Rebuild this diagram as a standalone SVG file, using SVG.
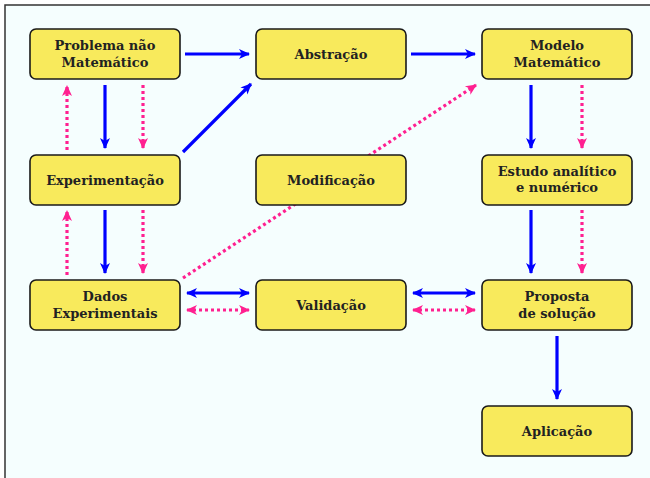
<svg xmlns="http://www.w3.org/2000/svg" width="650" height="478" viewBox="0 0 650 478">
<style>
.box{fill:#f8ea5c;stroke:#1a1a1a;stroke-width:1.6}
.t{font-family:"DejaVu Serif","Liberation Serif",serif;font-weight:bold;font-size:13px;fill:#222;text-anchor:middle}
.b{stroke:#0000ff;stroke-width:3.2;fill:none}
.p{stroke:#ff2090;stroke-width:3.2;fill:none;stroke-dasharray:3 3}
</style>
<defs>
<marker id="ab" markerUnits="userSpaceOnUse" markerWidth="12" markerHeight="12" viewBox="-10 -6 12 12" refX="0" refY="0" orient="auto-start-reverse">
<path d="M-10,-5 L1,0 L-10,5 L-7,0 Z" fill="#0000ff"/>
</marker>
<marker id="ap" markerUnits="userSpaceOnUse" markerWidth="12" markerHeight="12" viewBox="-10 -6 12 12" refX="0" refY="0" orient="auto-start-reverse">
<path d="M-10,-5 L1,0 L-10,5 L-7,0 Z" fill="#ff2090"/>
</marker>
</defs>
<rect x="0" y="0" width="650" height="478" fill="#ffffff"/>
<rect x="5" y="5" width="660" height="490" fill="#f5fefe" stroke="#333" stroke-width="1.5"/>
<g id="connectors">
<line class="p" x1="183" y1="278" x2="476" y2="85" marker-end="url(#ap)"/>
<line class="b" x1="185" y1="54" x2="249" y2="54" marker-end="url(#ab)"/>
<line class="b" x1="411" y1="54" x2="475" y2="54" marker-end="url(#ab)"/>
<line class="b" x1="105" y1="85" x2="105" y2="148" marker-end="url(#ab)"/>
<line class="p" x1="67" y1="150" x2="67" y2="86" marker-end="url(#ap)"/>
<line class="p" x1="143" y1="85" x2="143" y2="148" marker-end="url(#ap)"/>
<line class="b" x1="183" y1="152" x2="251" y2="84" marker-end="url(#ab)"/>
<line class="b" x1="105" y1="210" x2="105" y2="273" marker-end="url(#ab)"/>
<line class="p" x1="67" y1="275" x2="67" y2="211" marker-end="url(#ap)"/>
<line class="p" x1="143" y1="210" x2="143" y2="273" marker-end="url(#ap)"/>
<line class="b" x1="187" y1="293" x2="249" y2="293" marker-start="url(#ab)" marker-end="url(#ab)"/>
<line class="p" x1="187" y1="310" x2="249" y2="310" marker-start="url(#ap)" marker-end="url(#ap)"/>
<line class="b" x1="413" y1="293" x2="475" y2="293" marker-start="url(#ab)" marker-end="url(#ab)"/>
<line class="p" x1="413" y1="310" x2="475" y2="310" marker-start="url(#ap)" marker-end="url(#ap)"/>
<line class="b" x1="531" y1="85" x2="531" y2="148" marker-end="url(#ab)"/>
<line class="p" x1="582" y1="85" x2="582" y2="148" marker-end="url(#ap)"/>
<line class="b" x1="531" y1="210" x2="531" y2="273" marker-end="url(#ab)"/>
<line class="p" x1="582" y1="210" x2="582" y2="273" marker-end="url(#ap)"/>
<line class="b" x1="557" y1="336" x2="557" y2="399" marker-end="url(#ab)"/>
</g>
<g id="problema"><rect class="box" x="30" y="29" width="150" height="50" rx="6"/><text class="t" x="105" y="50">Problema não</text><text class="t" x="105" y="67">Matemático</text></g>
<g id="abstracao"><rect class="box" x="256" y="29" width="150" height="50" rx="6"/><text class="t" x="331" y="59">Abstração</text></g>
<g id="modelo"><rect class="box" x="482" y="29" width="150" height="50" rx="6"/><text class="t" x="557" y="50">Modelo</text><text class="t" x="557" y="67">Matemático</text></g>
<g id="experimentacao"><rect class="box" x="30" y="155" width="150" height="50" rx="6"/><text class="t" x="105" y="185">Experimentação</text></g>
<g id="modificacao"><rect class="box" x="256" y="155" width="150" height="50" rx="6"/><text class="t" x="331" y="185">Modificação</text></g>
<g id="estudo"><rect class="box" x="482" y="155" width="150" height="50" rx="6"/><text class="t" x="557" y="176">Estudo analítico</text><text class="t" x="557" y="192">e numérico</text></g>
<g id="dados"><rect class="box" x="30" y="280" width="150" height="50" rx="6"/><text class="t" x="105" y="301">Dados</text><text class="t" x="105" y="318">Experimentais</text></g>
<g id="validacao"><rect class="box" x="256" y="280" width="150" height="50" rx="6"/><text class="t" x="331" y="310">Validação</text></g>
<g id="proposta"><rect class="box" x="482" y="280" width="150" height="50" rx="6"/><text class="t" x="557" y="301">Proposta</text><text class="t" x="557" y="318">de solução</text></g>
<g id="aplicacao"><rect class="box" x="482" y="406" width="150" height="50" rx="6"/><text class="t" x="557" y="436">Aplicação</text></g>
</svg>
